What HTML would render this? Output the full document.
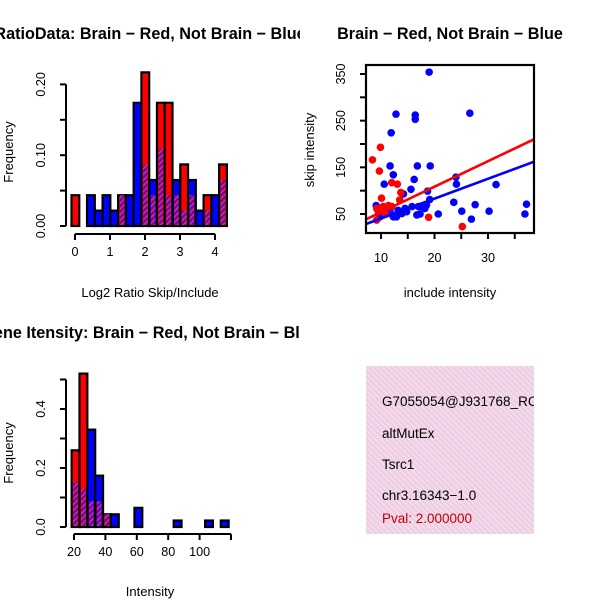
<!DOCTYPE html>
<html><head><meta charset="utf-8"><style>
html,body{margin:0;padding:0;background:#fff}
svg{display:block;font-family:"Liberation Sans",Helvetica,Arial,sans-serif}
</style></head><body>
<svg id="c" width="600" height="600" viewBox="0 0 600 600">
<defs>
<clipPath id="cl1"><rect x="0" y="0" width="300" height="300"/></clipPath>
<clipPath id="cl3"><rect x="0" y="300" width="300" height="300"/></clipPath>
<clipPath id="clp"><rect x="366" y="366" width="168" height="168"/></clipPath>
<pattern id="hatch" width="4" height="4" patternUnits="userSpaceOnUse" patternTransform="rotate(45)">
<rect width="4" height="4" fill="#8a008a"/><rect width="1.3" height="4" fill="#b040b0"/></pattern>
<pattern id="phatch" width="4" height="4" patternUnits="userSpaceOnUse" patternTransform="rotate(-45)">
<rect width="4" height="4" fill="#f7d6f1"/><rect width="1.5" height="4" fill="#e6d0d8"/></pattern>
</defs>
<g id="p1"></g>
<g id="p2"></g>
<g id="p3"></g>
<g>
<rect x="366" y="366" width="168" height="168" fill="url(#phatch)"/>
<g clip-path="url(#clp)" font-size="13.5">
<text x="382" y="406">G7055054@J931768_RC</text>
<text x="382" y="438">altMutEx</text>
<text x="382" y="469">Tsrc1</text>
<text x="382" y="500">chr3.16343−1.0</text>
<text x="382" y="523" fill="#c00000">Pval: 2.000000</text>
</g></g>
</svg>
<script>
// ---- Panel 1: log2 ratio histogram
const ratioRed = [0.0435,0,0,0,0,0,0.0435,0,0,0.217,0.0435,0.174,0.174,0.0435,0.087,0.0435,0,0.0435,0,0.087];
const ratioBlue = [0,0,0.0435,0.0217,0.0435,0.0217,0.0435,0.0435,0.174,0.087,0.065,0.109,0.0435,0.065,0.0217,0.065,0.0217,0.0217,0.0435,0.065];
const ratioBreakStart = -0.1, ratioBinWidth = 0.222;
const ratioXTicks = [0,1,2,3,4];
const ratioYTicks = ["0.00","0.10","0.20"];
// ---- Panel 3: intensity histogram
const intRed = [0.26,0.52,0.087,0.087,0.043,0,0,0,0,0,0,0,0,0,0,0,0,0,0,0];
const intBlue = [0.15,0.13,0.33,0.174,0.043,0.043,0,0,0.065,0,0,0,0,0.022,0,0,0,0.022,0,0.022];
const intBreakStart = 18.5, intBinWidth = 5;
const intXTicks = [20,40,60,80,100,120];
const intXLabels = ["20","40","60","80","100",""];
const intYTicks = ["0.0","0.2","0.4"];
// ---- Panel 2: scatter
const blueX = [19,12.8,16.4,16.4,26.6,11.9,11.7,12.3,16.8,19.2,10.6,16.2,15.6,14.2,24,24.1,31.5,18.7,19.1,9.1,23.6,27.6,37.2,36.9,30.2,25.1,20.7,26.9,10.4,11.7,12.9,13.9,14.8,15.8,16.7,17.3,18.2,18.5,9.8,11.1,14.5,17,13.2,12.3,17.6];
const blueY = [354,264,262,253,266,224,153,134,153,153,114,124,103,93,129,114,113,99,81,68,75,70,71,50,56,56,50,39,50,55,44,51,55,66,48,50,62,69,44,62,62,66,58,44,66];
const redX = [8.4,9.9,9.7,12,13.05,13.7,10.1,10.4,9.2,11.4,12,9.2,18.9,25.2,10.8,13.5,9.5];
const redY = [166,193,142,117,114,96,84,66,62,68,66,37,43,23,51,80,55];
const redFit = [-0.7,5.46];   // intercept, slope
const blueFit = [-2.0,4.25];
const scatXTicks = [10,15,20,25,30,35];
const scatXLabels = ["10","","20","","30",""];
const scatYTicks = [50,100,150,200,250,300,350];
const scatYLabels = ["50","","150","","250","","350"];

const NS="http://www.w3.org/2000/svg";
function mk(tag,attrs,parent){const e=document.createElementNS(NS,tag);for(const k in attrs)e.setAttribute(k,attrs[k]);parent.appendChild(e);return e;}
const TF=16.2, LF=12.6, AF=13;

function hist(g,clipId,red,blue,start,bw,xs,ys,xticks,xlabels,yvals,ylabels,yLabX,xTickY,title,titleY,xlab,xlabY,ylabY){
  g.setAttribute('clip-path','url(#'+clipId+')');
  for(let i=0;i<red.length;i++){
    const r=red[i],b=blue[i];
    const x0=xs(start+i*bw),x1=xs(start+(i+1)*bw);
    const mx=Math.max(r,b),mn=Math.min(r,b);
    if(mx<=0) continue;
    const top=mk('rect',{x:x0,y:ys(mx),width:x1-x0,height:ys(0)-ys(mx),fill:r>=b?'#ff0000':'#0000ff',stroke:'#000','stroke-width':2.2},g);
    
    
    if(mn>0){
      const ov=mk('rect',{x:x0+1.5,y:ys(mn),width:x1-x0-3,height:ys(0)-ys(mn)-1,fill:'url(#hatch)'},g);
      
      
    }
  }
  const xa=mk('g',{},g);
  
  
  mk('line',{x1:xs(xticks[0]),x2:xs(xticks[xticks.length-1]),y1:xTickY,y2:xTickY,stroke:'#000','stroke-width':2},xa);
  xticks.forEach((t,i)=>{
    mk('line',{x1:xs(t),x2:xs(t),y1:xTickY,y2:xTickY+6,stroke:'#000','stroke-width':2},xa);
    const tx=mk('text',{x:xs(t),y:xTickY+22,'font-size':LF,'text-anchor':'middle'},xa);tx.textContent=xlabels[i];
    
    
  });
  const ya=mk('g',{},g);
  
  
  mk('line',{x1:66,x2:66,y1:ys(yvals[0]),y2:ys(yvals[yvals.length-1]),stroke:'#000','stroke-width':2},ya);
  yvals.forEach((v)=>{mk('line',{x1:60,x2:66,y1:ys(v),y2:ys(v),stroke:'#000','stroke-width':2},ya);});
  ylabels.forEach((l,i)=>{
    const v=yvals[i*2];
    const tx=mk('text',{x:yLabX,y:ys(v),'font-size':LF,'text-anchor':'middle',transform:`rotate(-90 ${yLabX} ${ys(v)})`},ya);tx.textContent=l;
    
    
  });
  const t=mk('text',{x:150,y:titleY,'font-size':TF,'font-weight':'bold','text-anchor':'middle'},g);t.textContent=title;
  
  
  const xl=mk('text',{x:150,y:xlabY,'font-size':AF,'text-anchor':'middle'},g);xl.textContent=xlab;
  
  
  const yl=mk('text',{x:13,y:ylabY,'font-size':AF,'text-anchor':'middle',transform:`rotate(-90 13 ${ylabY})`},g);yl.textContent='Frequency';
  
  
}

{
  const xs=v=>75+v*35, ys=v=>226-v*708;
  hist(document.getElementById('p1'),'cl1',ratioRed,ratioBlue,ratioBreakStart,ratioBinWidth,xs,ys,
    ratioXTicks,ratioXTicks.map(String),[0,0.05,0.1,0.15,0.2],ratioYTicks,45,234,
    'RatioData: Brain − Red, Not Brain − Blue',39,'Log2 Ratio Skip/Include',297,152);
}
{
  const xs=v=>74+(v-20)*1.57, ys=v=>527-v*295;
  hist(document.getElementById('p3'),'cl3',intRed,intBlue,intBreakStart,intBinWidth,xs,ys,
    intXTicks,intXLabels,[0,0.1,0.2,0.3,0.4,0.5],intYTicks,45,534,
    'Gene Itensity: Brain − Red, Not Brain − Blue',338,'Intensity',596,453);
}
{
  const g=document.getElementById('p2');
  const xs=v=>381+(v-10)*5.35, ys=v=>214-(v-50)*0.4667;
  const pts=mk('g',{},g);
  
  
  blueX.forEach((x,i)=>{const c=mk('circle',{cx:xs(x),cy:ys(blueY[i]),r:3.8,fill:'#0000ff'},pts);
    
    });
  redX.forEach((x,i)=>{const c=mk('circle',{cx:xs(x),cy:ys(redY[i]),r:3.8,fill:'#ff0000'},pts);
    
    });
  const xmin=7.2,xmax=38.6;
  const cp=mk('clipPath',{id:'clbox'},g);mk('rect',{x:366,y:65,width:168,height:168},cp);
  [[redFit,'#ff0000','fit-line-brain'],[blueFit,'#0000ff','fit-line-not-brain']].forEach(([f,col,nm])=>{
    const l=mk('line',{x1:xs(xmin),y1:ys(f[0]+f[1]*xmin),x2:xs(xmax),y2:ys(f[0]+f[1]*xmax),stroke:col,'stroke-width':2.6,'clip-path':'url(#clbox)'},g);
    
    
  });
  const box=mk('rect',{x:366,y:65,width:168,height:168,fill:'none',stroke:'#000','stroke-width':2.2},g);
  
  
  const xa=mk('g',{},g);
  
  
  scatXTicks.forEach((t,i)=>{mk('line',{x1:xs(t),x2:xs(t),y1:233,y2:239,stroke:'#000','stroke-width':2},xa);
    if(scatXLabels[i]){const tx=mk('text',{x:xs(t),y:262,'font-size':LF,'text-anchor':'middle'},xa);tx.textContent=scatXLabels[i];
      
      }});
  const ya=mk('g',{},g);
  
  
  scatYTicks.forEach((t,i)=>{mk('line',{x1:360,x2:366,y1:ys(t),y2:ys(t),stroke:'#000','stroke-width':2},ya);
    if(scatYLabels[i]){const tx=mk('text',{x:345,y:ys(t),'font-size':LF,'text-anchor':'middle',transform:`rotate(-90 345 ${ys(t)})`},ya);tx.textContent=scatYLabels[i];
      
      }});
  const t=mk('text',{x:450,y:39,'font-size':TF,'font-weight':'bold','text-anchor':'middle'},g);t.textContent='Brain − Red, Not Brain − Blue';
  
  
  const xl=mk('text',{x:450,y:297,'font-size':AF,'text-anchor':'middle'},g);xl.textContent='include intensity';
  
  
  const yl=mk('text',{x:314,y:150,'font-size':AF,'text-anchor':'middle',transform:'rotate(-90 314 150)'},g);yl.textContent='skip intensity';
  
  
}
</script>
</body></html>
